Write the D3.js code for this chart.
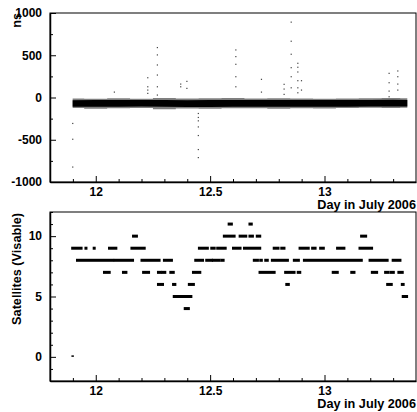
<!DOCTYPE html>
<html>
<head>
<meta charset="utf-8">
<script src="https://cdn.jsdelivr.net/npm/d3@7"></script>
<style>
  body { margin: 0; background: #fff; }
  svg text { font-family: "Liberation Sans", Arial, sans-serif; font-weight: bold; fill: #000; }
  .tick line { stroke: #000; }
  .domain { stroke: #000; stroke-width: 1.5; }
</style>
</head>
<body>
<div id="chart"></div>
<script>
// x ticks (day in July 2006)
const dayTicks = [12, 12.5, 13]
const dayMinor = [11.9, 12.1, 12.2, 12.3, 12.4, 12.6, 12.7, 12.8, 12.9, 13.1, 13.2, 13.3]

// top panel: timing offset (ns). dense band, sampled envelope
const bandT      = [11.899, 12.0, 12.1, 12.2, 12.3, 12.4, 12.5, 12.6, 12.7, 12.8, 12.9, 13.0, 13.1, 13.2, 13.3, 13.362]
const bandLo     = [-108, -110, -108, -106, -110, -112, -112, -110, -109, -108, -110, -109, -108, -106, -107, -106]
const bandHi     = [-32, -30, -30, -29, -31, -32, -31, -30, -31, -29, -30, -31, -30, -29, -28, -29]
const fringeLo   = [-125, -132, -128, -124, -138, -130, -134, -128, -126, -132, -127, -130, -125, -122, -124, -120]
const fringeHi   = [-12, -15, -8, -14, -6, -12, -10, -6, -12, -10, -12, -14, -12, -8, -6, -10]

// outliers off the band
const outT  = [11.899, 11.899, 11.899, 12.081, 12.227, 12.227, 12.227, 12.227,
               12.269, 12.269, 12.269, 12.269, 12.269, 12.269, 12.371, 12.371, 12.398, 12.398,
               12.448, 12.448, 12.448, 12.448, 12.448, 12.448, 12.448,
               12.612, 12.612, 12.612, 12.612, 12.612, 12.724, 12.724, 12.823, 12.823, 12.823,
               12.854, 12.854, 12.854, 12.854, 12.854, 12.854,
               12.883, 12.883, 12.883, 12.883, 12.883, 12.883, 12.899, 12.899,
               13.282, 13.282, 13.282, 13.282, 13.320, 13.320, 13.320, 13.320]
const outNs = [-306, -493, -822, 65, 235, 128, 89, 50,
               592, 505, 386, 267, 128, 30, 160, 128, 192, 109,
               -188, -235, -275, -347, -449, -615, -710,
               564, 485, 394, 247, 128, 216, 65, 157, 101, 38,
               893, 667, 513, 354, 247, 116,
               406, 359, 303, 200, 116, 57, 200, 89,
               287, 176, 77, 10, 315, 247, 160, 89]

// bottom panel: visible satellites, runs of samples at the same count
const runStart = [11.898,
  12.389, 12.341, 13.342,
  12.272, 12.338, 12.407, 12.833, 13.274, 13.338,
  12.036, 12.119, 12.207, 12.272, 12.290, 12.326, 12.425, 12.716, 12.828, 12.883, 13.036, 13.117, 13.207, 13.265, 13.288, 13.323,
  11.918, 12.083, 12.200, 12.298, 12.435, 12.483, 12.512, 12.549, 12.691, 12.719, 12.741, 12.770, 12.866, 12.910, 13.197, 13.298,
  11.897, 11.955, 11.991, 12.058, 12.156, 12.451, 12.505, 12.531, 12.600, 12.648, 12.778, 12.811, 12.891, 12.946, 12.981, 13.055, 13.153,
  12.163, 12.560, 12.629, 12.672, 12.704, 13.160,
  12.581, 12.672]
const runEnd = [11.900,
  12.407, 12.418, 13.361,
  12.294, 12.348, 12.429, 12.844, 13.294, 13.346,
  12.061, 12.134, 12.233, 12.284, 12.304, 12.341, 12.457, 12.782, 12.869, 12.894, 13.058, 13.131, 13.230, 13.279, 13.303, 13.342,
  12.076, 12.163, 12.279, 12.333, 12.469, 12.508, 12.541, 12.559, 12.709, 12.726, 12.752, 12.840, 12.888, 13.163, 13.276, 13.332,
  11.938, 11.958, 11.995, 12.090, 12.214, 12.490, 12.520, 12.568, 12.633, 12.719, 12.799, 12.825, 12.931, 12.961, 12.997, 13.087, 13.208,
  12.180, 12.607, 12.658, 12.687, 12.719, 13.182,
  12.595, 12.682]
const runSats = [0,
  4, 5, 5,
  6, 6, 6, 6, 6, 6,
  7, 7, 7, 7, 7, 7, 7, 7, 7, 7, 7, 7, 7, 7, 7, 7,
  8, 8, 8, 8, 8, 8, 8, 8, 8, 8, 8, 8, 8, 8, 8, 8,
  9, 9, 9, 9, 9, 9, 9, 9, 9, 9, 9, 9, 9, 9, 9, 9, 9,
  10, 10, 10, 10, 10, 10,
  11, 11]

const nsTicks = [-1000, -500, 0, 500, 1000]
const nsMinor = [-750, -250, 250, 750]
const satTicks = [0, 5, 10]
const satMinor = [-2, -1, 1, 2, 3, 4, 6, 7, 8, 9, 11, 12]

const W = 417, H = 412
const svg = d3.select("#chart").append("svg")
    .attr("width", W).attr("height", H)

const x = d3.scaleLinear().domain([11.8, 13.4]).range([50, 416])

function frame(y, ticks, minor) {
    const g = svg.append("g")
    g.append("rect")
        .attr("x", x.range()[0]).attr("y", y.range()[1])
        .attr("width", x.range()[1] - x.range()[0])
        .attr("height", y.range()[0] - y.range()[1])
        .attr("fill", "none").attr("stroke", "#000").attr("stroke-width", 1)

    const yb = y.range()[0]
    // minor x ticks
    g.append("g")
        .attr("transform", "translate(0," + yb + ")")
        .call(d3.axisBottom(x).tickValues(dayMinor).tickSizeInner(-3).tickSizeOuter(0).tickFormat(""))
        .select(".domain").remove()
    g.append("g")
        .attr("transform", "translate(0," + yb + ")")
        .call(d3.axisBottom(x).tickValues(dayTicks).tickSizeInner(-6).tickSizeOuter(0)
            .tickPadding(5.5).tickFormat(d => String(d)))
        .selectAll("text").style("font-size", "12px")

    const xl = x.range()[0]
    g.append("g")
        .attr("transform", "translate(" + xl + ",0)")
        .call(d3.axisLeft(y).tickValues(minor).tickSizeInner(-3).tickSizeOuter(0).tickFormat(""))
        .select(".domain").remove()
    g.append("g")
        .attr("transform", "translate(" + xl + ",0)")
        .call(d3.axisLeft(y).tickValues(ticks).tickSizeInner(-6).tickSizeOuter(0)
            .tickPadding(8).tickFormat(d => String(d)))
        .selectAll("text").style("font-size", "12px")

    svg.append("text")
        .attr("x", 416).attr("y", yb + 26.5)
        .attr("text-anchor", "end")
        .style("font-size", "12.7px")
        .text("Day in July 2006")
}

// ---- top panel
const yNs = d3.scaleLinear().domain([-1000, 1000]).range([182, 13])

const band = bandT.map((t, i) => ({t: t, lo: bandLo[i], hi: bandHi[i], flo: fringeLo[i], fhi: fringeHi[i]}))
svg.append("path")
    .datum(band)
    .attr("fill", "#000").attr("opacity", 0.5)
    .attr("d", d3.area().x(d => x(d.t)).y0(d => yNs(d.flo)).y1(d => yNs(d.fhi)).curve(d3.curveStep))
svg.append("path")
    .datum(band)
    .attr("fill", "#000")
    .attr("d", d3.area().x(d => x(d.t)).y0(d => yNs(d.lo)).y1(d => yNs(d.hi)))

svg.selectAll(".out")
    .data(outT)
    .enter()
    .append("rect")
    .attr("class", "out")
    .attr("x", d => x(d) - 0.5)
    .attr("y", (d, i) => yNs(outNs[i]) - 0.5)
    .attr("width", 1.2).attr("height", 1.2)
    .attr("fill", "#444")

frame(yNs, nsTicks, nsMinor)

svg.append("text")
    .attr("transform", "translate(20.6,13) rotate(-90)")
    .attr("text-anchor", "end")
    .style("font-size", "12.7px")
    .text("ns")

// ---- bottom panel
const ySat = d3.scaleLinear().domain([-2, 12]).range([381, 212])

svg.selectAll(".run")
    .data(runStart)
    .enter()
    .append("rect")
    .attr("class", "run")
    .attr("x", d => x(d) - 1)
    .attr("y", (d, i) => ySat(runSats[i]) - 1.5)
    .attr("width", (d, i) => Math.max(x(runEnd[i]) - x(d) + 2, runSats[i] === 0 ? 1.5 : 3))
    .attr("height", (d, i) => runSats[i] === 0 ? 1.5 : 3)
    .attr("fill", "#000")

frame(ySat, satTicks, satMinor)

svg.append("text")
    .attr("transform", "translate(20.6,213) rotate(-90)")
    .attr("text-anchor", "end")
    .style("font-size", "12.7px")
    .text("Satellites (Visable)")
</script>
</body>
</html>
